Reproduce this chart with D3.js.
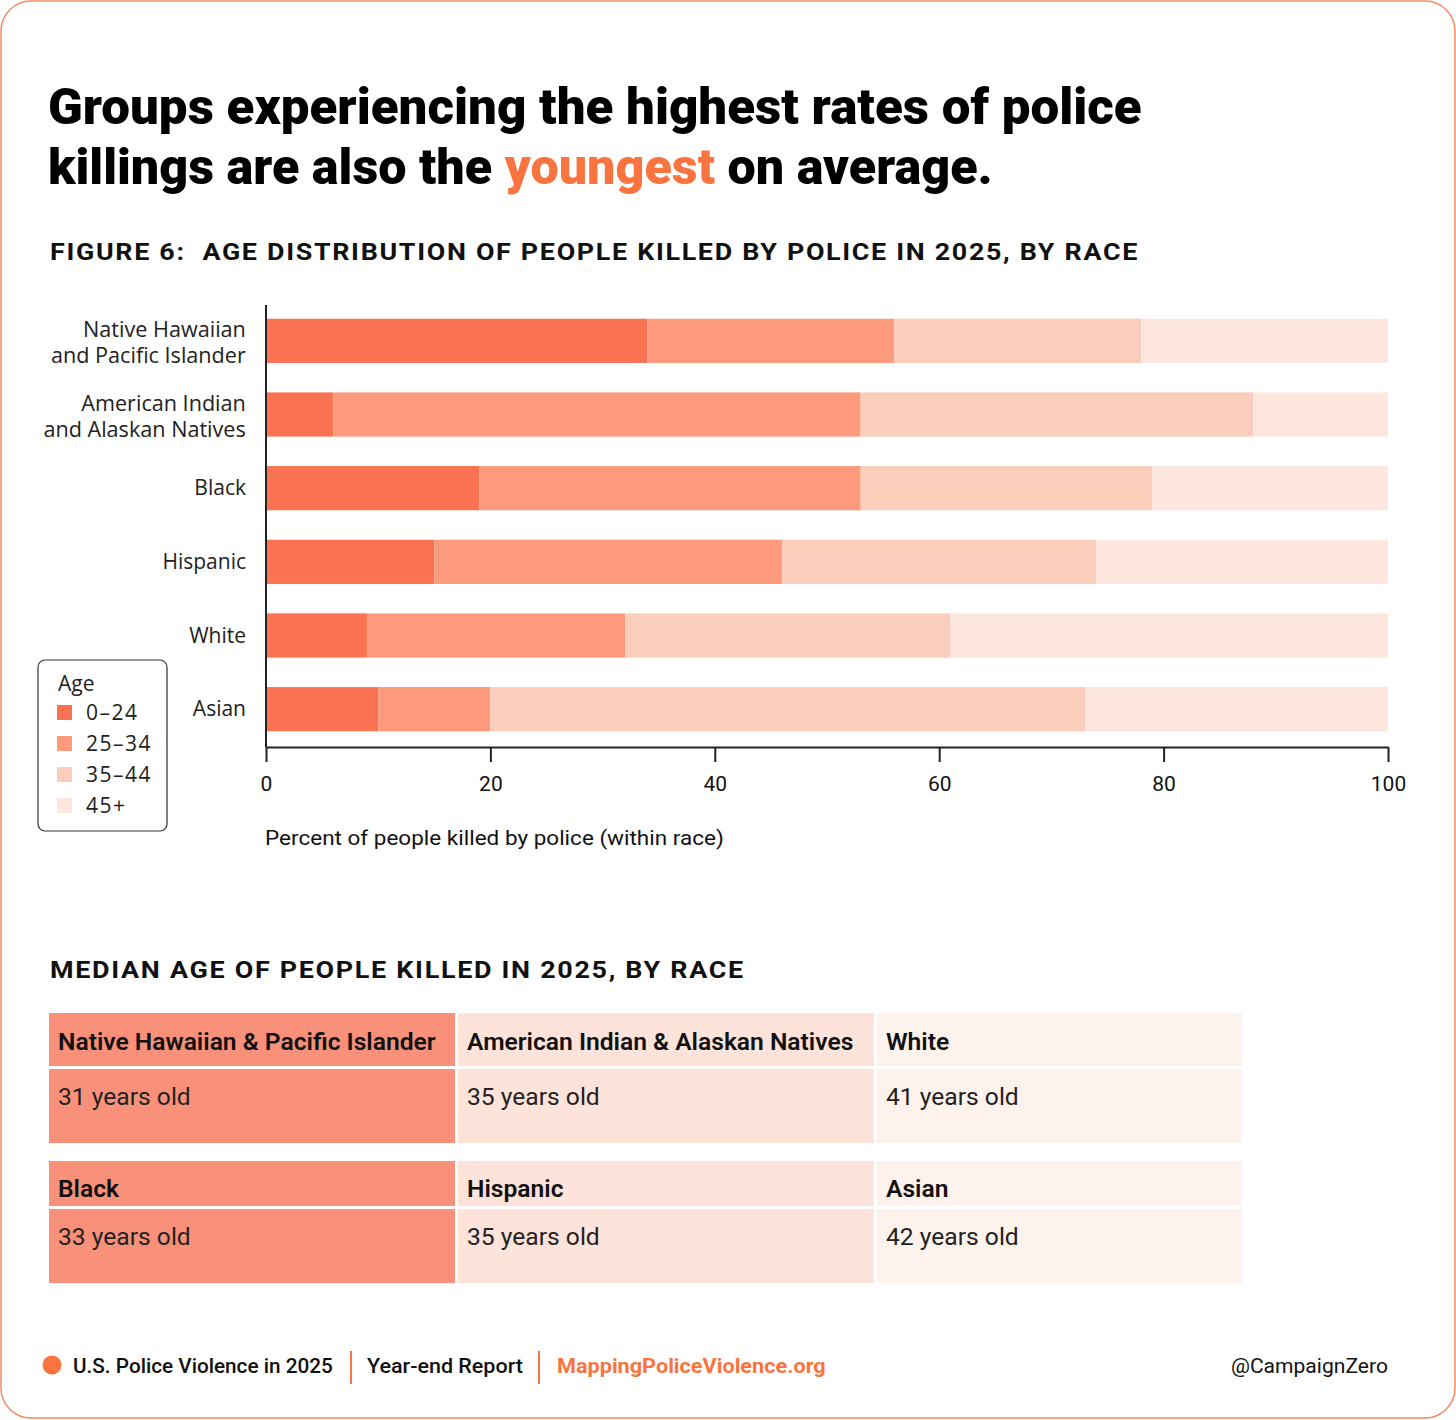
<!DOCTYPE html>
<html>
<head>
<meta charset="utf-8">
<script src="https://cdn.jsdelivr.net/npm/d3@7"></script>
<style>
  body { margin: 0; background: #fff; }
  svg text { white-space: pre; }
</style>
</head>
<body>
<svg id="chart" width="1456" height="1420"></svg>
<script>
// Chart data
const raceLabels = [
  ['Native Hawaiian', 'and Pacific Islander'],
  ['American Indian', 'and Alaskan Natives'],
  ['Black'],
  ['Hispanic'],
  ['White'],
  ['Asian'],
];
const ageGroups = ['0–24', '25–34', '35–44', '45+'];
const age0to24 = [34, 6, 19, 15, 9, 10];
const age25to34 = [22, 47, 34, 31, 23, 10];
const age35to44 = [22, 35, 26, 28, 29, 53];
const age45plus = [22, 12, 21, 26, 39, 27];
const xTicks = [0, 20, 40, 60, 80, 100];

const medianGroups = [
  'Native Hawaiian & Pacific Islander', 'American Indian & Alaskan Natives', 'White',
  'Black', 'Hispanic', 'Asian',
];
const medianAges = [31, 35, 41, 33, 35, 42];

const ageColors = ['#f97352', '#fc9a7b', '#fbcebc', '#fde6de'];
const tableColors = ['#f9907a', '#fde3d9', '#fef2ec'];
const orange = '#f9743f';

const svg = d3.select('#chart');
const font = 'Roboto, "Open Sans", sans-serif';
const labelFont = '"Open Sans", "Noto Sans", sans-serif';

// squeeze a text element horizontally so it spans a given width
function fitWidth(sel, x, y, width) {
  const w = sel.node().getComputedTextLength();
  sel.attr('x', 0).attr('y', 0)
    .attr('transform', `translate(${x},${y}) scale(${width / w},1)`);
}

// outer frame
svg.append('rect')
  .attr('x', 1).attr('y', 1).attr('width', 1454).attr('height', 1417)
  .attr('rx', 30).attr('fill', '#fff')
  .attr('stroke', '#f58a63').attr('stroke-width', 1.5);

// headline
const t1 = svg.append('text')
  .attr('font-family', font).attr('font-weight', 900).attr('font-size', 50)
  .attr('fill', '#000')
  .text('Groups experiencing the highest rates of police');
fitWidth(t1, 48, 124, 1094);

const t2 = svg.append('text')
  .attr('font-family', font).attr('font-weight', 900).attr('font-size', 50)
  .attr('fill', '#000');
t2.append('tspan').text('killings are also the ');
t2.append('tspan').attr('fill', orange).text('youngest');
t2.append('tspan').text(' on average.');
fitWidth(t2, 48, 184, 945);

const sub1 = svg.append('text')
  .attr('font-family', font).attr('font-weight', 700).attr('font-size', 24)
  .attr('letter-spacing', 1.5).attr('fill', '#111')
  .text('FIGURE 6:  AGE DISTRIBUTION OF PEOPLE KILLED BY POLICE IN 2025, BY RACE');
fitWidth(sub1, 50, 260, 1089);

// stacked bar chart
const margin = { left: 266, right: 1388, top: 305, bottom: 747 };

const rows = raceLabels.map((lab, i) => ({
  race: lab.join(' '),
  lines: lab,
  [ageGroups[0]]: age0to24[i],
  [ageGroups[1]]: age25to34[i],
  [ageGroups[2]]: age35to44[i],
  [ageGroups[3]]: age45plus[i],
}));

const x = d3.scaleLinear().domain([0, 100]).range([margin.left, margin.right]);
const y = d3.scaleBand()
  .domain(rows.map((d) => d.race))
  .range([margin.top - 1, margin.bottom - 1])
  .paddingInner(0.4)
  .paddingOuter(0.2);

const series = d3.stack().keys(ageGroups)(rows);
const color = d3.scaleOrdinal().domain(ageGroups).range(ageColors);

svg.append('g')
  .selectAll('g')
  .data(series)
  .join('g')
  .attr('fill', (d) => color(d.key))
  .selectAll('rect')
  .data((d) => d)
  .join('rect')
  .attr('x', (d) => x(d[0]))
  .attr('width', (d) => x(d[1]) - x(d[0]))
  .attr('y', (d) => y(d.data.race))
  .attr('height', y.bandwidth());

// y labels, one text per line
const yLab = svg.append('g')
  .attr('font-family', labelFont).attr('font-size', 21).attr('fill', '#222')
  .attr('text-anchor', 'end');
rows.forEach((r) => {
  const cy = y(r.race) + y.bandwidth() / 2;
  r.lines.forEach((ln, j) => {
    const t = yLab.append('text')
      .attr('x', 246)
      .attr('y', cy + 7 - (r.lines.length - 1) * 11 + j * 26)
      .text(ln);
    const w = t.node().getComputedTextLength();
    if (r.lines.length > 1) {
      // slightly wider, matching the reference label widths
      fitWidth(t, 246 - w * 1.03, cy + 7 - (r.lines.length - 1) * 11 + j * 26, w * 1.03);
      t.attr('text-anchor', 'start');
    }
  });
});

// y axis line
svg.append('line')
  .attr('x1', margin.left).attr('x2', margin.left)
  .attr('y1', margin.top).attr('y2', margin.bottom)
  .attr('stroke', '#222').attr('stroke-width', 2);

// x axis
const xAxis = svg.append('g')
  .attr('transform', `translate(0,${margin.bottom})`)
  .call(d3.axisBottom(x).tickValues(xTicks).tickSize(15).tickSizeOuter(0).tickPadding(14));
xAxis.select('.domain').attr('stroke', '#222').attr('stroke-width', 2);
xAxis.selectAll('.tick line').attr('stroke', '#222').attr('stroke-width', 2);
xAxis.selectAll('.tick text')
  .attr('font-family', font).attr('font-size', 21).attr('fill', '#111');

const axTitle = svg.append('text')
  .attr('font-family', font).attr('font-size', 21).attr('fill', '#111')
  .text('Percent of people killed by police (within race)');
fitWidth(axTitle, 265, 845, 459);

// legend
const legend = svg.append('g');
legend.append('rect')
  .attr('x', 38).attr('y', 660).attr('width', 129).attr('height', 171)
  .attr('rx', 7).attr('fill', '#fff').attr('stroke', '#333').attr('stroke-width', 1.2);
legend.append('text')
  .attr('x', 58).attr('y', 691)
  .attr('font-family', labelFont).attr('font-size', 21).attr('fill', '#222')
  .text('Age');
const legItems = legend.selectAll('g.item')
  .data(ageGroups)
  .join('g')
  .attr('class', 'item')
  .attr('transform', (d, i) => `translate(57,${713 + i * 31})`);
legItems.append('rect')
  .attr('x', 0).attr('y', -8).attr('width', 15).attr('height', 15)
  .attr('fill', (d) => color(d));
legItems.append('text')
  .attr('x', 29).attr('y', 7)
  .attr('font-family', labelFont).attr('font-size', 21).attr('letter-spacing', 1.5)
  .attr('fill', '#222')
  .text((d) => d);

// median age table
const sub2 = svg.append('text')
  .attr('font-family', font).attr('font-weight', 700).attr('font-size', 24)
  .attr('letter-spacing', 1.5).attr('fill', '#111')
  .text('MEDIAN AGE OF PEOPLE KILLED IN 2025, BY RACE');
fitWidth(sub2, 50, 978, 695);

const colEdges = [49, 458, 877, 1245];
const tableRows = [
  { headTop: 1013, headH: 53, valH: 74, headBase: 1050, valBase: 1105 },
  { headTop: 1161, headH: 45, valH: 74, headBase: 1197, valBase: 1245 },
];

// common horizontal squeeze for table text, matched to the widest header
const probe = svg.append('text')
  .attr('font-family', font).attr('font-weight', 600).attr('font-size', 24)
  .text(medianGroups[0]);
const squeeze = 378 / probe.node().getComputedTextLength();
probe.remove();

const cells = medianGroups.map((g, i) => ({
  group: g, age: medianAges[i], row: Math.floor(i / 3), col: i % 3,
}));

const cellG = svg.append('g')
  .selectAll('g')
  .data(cells)
  .join('g');

cellG.append('rect')
  .attr('x', (d) => colEdges[d.col])
  .attr('width', (d) => colEdges[d.col + 1] - colEdges[d.col] - 3)
  .attr('y', (d) => tableRows[d.row].headTop)
  .attr('height', (d) => tableRows[d.row].headH)
  .attr('fill', (d) => tableColors[d.col]);

cellG.append('rect')
  .attr('x', (d) => colEdges[d.col])
  .attr('width', (d) => colEdges[d.col + 1] - colEdges[d.col] - 3)
  .attr('y', (d) => tableRows[d.row].headTop + tableRows[d.row].headH + 3)
  .attr('height', (d) => tableRows[d.row].valH)
  .attr('fill', (d) => tableColors[d.col]);

cellG.append('text')
  .attr('transform', (d) =>
    `translate(${colEdges[d.col] + 9},${tableRows[d.row].headBase}) scale(${squeeze},1)`)
  .attr('font-family', font).attr('font-weight', 600).attr('font-size', 24)
  .attr('fill', '#111')
  .text((d) => d.group);

cellG.append('text')
  .attr('transform', (d) =>
    `translate(${colEdges[d.col] + 9},${tableRows[d.row].valBase}) scale(${squeeze},1)`)
  .attr('font-family', font).attr('font-weight', 400).attr('font-size', 24)
  .attr('fill', '#222')
  .text((d) => `${d.age} years old`);

// footer
const foot = svg.append('g').attr('font-family', font).attr('font-size', 20);
foot.append('circle').attr('cx', 52).attr('cy', 1365).attr('r', 9.5).attr('fill', orange);
const f1 = foot.append('text').attr('font-weight', 500).attr('fill', '#111')
  .text('U.S. Police Violence in 2025');
fitWidth(f1, 73, 1373, 260);
foot.append('line').attr('x1', 351).attr('x2', 351).attr('y1', 1351).attr('y2', 1384)
  .attr('stroke', orange).attr('stroke-width', 2);
const f2 = foot.append('text').attr('font-weight', 500).attr('fill', '#111')
  .text('Year-end Report');
fitWidth(f2, 367, 1373, 156);
foot.append('line').attr('x1', 539).attr('x2', 539).attr('y1', 1351).attr('y2', 1384)
  .attr('stroke', orange).attr('stroke-width', 2);
const f3 = foot.append('text').attr('font-weight', 700).attr('fill', orange)
  .text('MappingPoliceViolence.org');
fitWidth(f3, 557, 1373, 269);
const f4 = foot.append('text').attr('font-weight', 400).attr('fill', '#111')
  .text('@CampaignZero');
fitWidth(f4, 1231, 1373, 157);
</script>
</body>
</html>
